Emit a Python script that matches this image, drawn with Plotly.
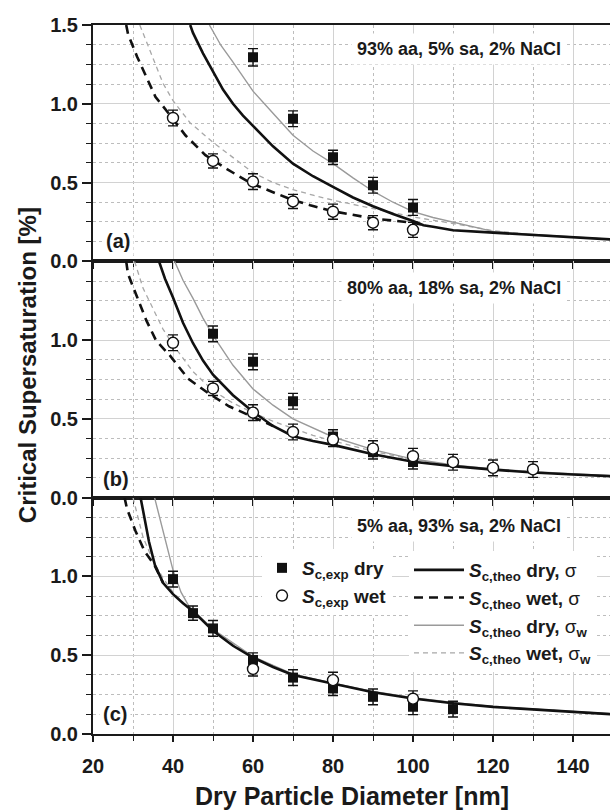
import plotly.graph_objects as go
from plotly.subplots import make_subplots

# ---------------- data ----------------
# panel (a): 93% aa, 5% sa, 2% NaCl
a_dry_x = [60, 70, 80, 90, 100]
a_dry_y = [1.295, 0.905, 0.66, 0.483, 0.342]
a_dry_e = [0.055, 0.05, 0.045, 0.05, 0.05]
a_wet_x = [40, 50, 60, 70, 80, 90, 100]
a_wet_y = [0.91, 0.637, 0.506, 0.38, 0.315, 0.245, 0.2]
a_wet_e = [0.05, 0.045, 0.05, 0.045, 0.048, 0.045, 0.048]

a_th_dry_s_x = [44.3, 45, 47.5, 50, 52.5, 55, 57.5, 60, 65, 70, 75, 80, 85, 90, 95, 100, 102.6, 105, 110, 120, 130, 140, 150]
a_th_dry_s_y = [1.5, 1.45, 1.32, 1.2, 1.09, 1.0, 0.925, 0.86, 0.73, 0.62, 0.54, 0.472, 0.405, 0.35, 0.3, 0.256, 0.229, 0.22, 0.197, 0.182, 0.167, 0.155, 0.138]
a_th_wet_s_x = [28.3, 28.75, 31, 33.1, 35.6, 39.2, 43.1, 48.1, 53.5, 59.6, 65.2, 69.3, 74.3, 80, 90, 100, 103]
a_th_wet_s_y = [1.5, 1.443, 1.30, 1.18, 1.045, 0.93, 0.80, 0.674, 0.585, 0.494, 0.436, 0.395, 0.356, 0.318, 0.272, 0.245, 0.229]
a_th_dry_w_x = [49.1, 52, 55, 60, 65, 70, 75, 80, 85, 90, 95, 100, 105, 110, 115, 120, 130, 140, 150]
a_th_dry_w_y = [1.5, 1.37, 1.265, 1.08, 0.94, 0.8, 0.7, 0.62, 0.53, 0.445, 0.375, 0.315, 0.278, 0.25, 0.222, 0.19, 0.17, 0.157, 0.14]
a_th_wet_w_x = [31.7, 34.2, 37.5, 40, 44.25, 50, 54.25, 60, 65, 70, 75, 80, 90, 100, 110, 117, 120, 130, 140, 150]
a_th_wet_w_y = [1.5, 1.34, 1.13, 1.02, 0.88, 0.755, 0.675, 0.563, 0.5, 0.455, 0.42, 0.388, 0.335, 0.282, 0.24, 0.21, 0.195, 0.168, 0.155, 0.138]

# panel (b): 80% aa, 18% sa, 2% NaCl
b_dry_x = [50, 60, 70, 80, 90, 100]
b_dry_y = [1.04, 0.862, 0.612, 0.386, 0.29, 0.227]
b_dry_e = [0.05, 0.05, 0.05, 0.045, 0.045, 0.045]
b_wet_x = [40, 50, 60, 70, 80, 90, 100, 110, 120, 130]
b_wet_y = [0.983, 0.693, 0.54, 0.417, 0.369, 0.311, 0.263, 0.225, 0.189, 0.179]
b_wet_e = [0.05, 0.045, 0.05, 0.05, 0.045, 0.05, 0.05, 0.05, 0.05, 0.05]

b_th_dry_s_x = [36.5, 38, 40, 42.5, 45, 47.5, 50, 55, 60, 65, 70, 75, 80, 90, 100, 110, 120, 130, 140, 150]
b_th_dry_s_y = [1.5, 1.39, 1.27, 1.11, 0.98, 0.87, 0.78, 0.65, 0.545, 0.455, 0.39, 0.36, 0.335, 0.275, 0.228, 0.2, 0.178, 0.16, 0.147, 0.136]
b_th_wet_s_x = [28.3, 28.75, 31, 33.3, 35.8, 39.3, 43.75, 49, 54, 60, 65]
b_th_wet_s_y = [1.5, 1.42, 1.275, 1.127, 0.996, 0.9, 0.756, 0.66, 0.58, 0.51, 0.455]
b_th_dry_w_x = [40.4, 42.5, 45, 47.5, 50, 55, 60, 65, 70, 75, 80, 90, 100, 110, 120, 130, 140, 150]
b_th_dry_w_y = [1.5, 1.38, 1.265, 1.14, 1.03, 0.84, 0.69, 0.587, 0.5, 0.44, 0.385, 0.305, 0.245, 0.207, 0.183, 0.165, 0.15, 0.138]
b_th_wet_w_x = [30.4, 32.5, 35, 37.5, 40, 45, 50, 55, 60, 65, 70, 75, 80, 90, 100, 110, 120, 130, 140, 150]
b_th_wet_w_y = [1.5, 1.33, 1.2, 1.07, 0.97, 0.80, 0.68, 0.6, 0.54, 0.485, 0.44, 0.395, 0.36, 0.295, 0.24, 0.204, 0.18, 0.162, 0.148, 0.136]

# panel (c): 5% aa, 93% sa, 2% NaCl
c_dry_x = [40, 45, 50, 60, 70, 80, 90, 100, 110]
c_dry_y = [0.983, 0.767, 0.67, 0.47, 0.358, 0.289, 0.236, 0.173, 0.158]
c_dry_e = [0.05, 0.045, 0.05, 0.045, 0.05, 0.045, 0.05, 0.05, 0.05]
c_wet_x = [60, 80, 100]
c_wet_y = [0.413, 0.342, 0.224]
c_wet_e = [0.045, 0.05, 0.05]

c_th_dry_s_x = [31.9, 33, 34, 35, 35.5, 37.5, 40, 42.5, 45, 50, 55, 60, 65, 70, 80, 90, 100, 110, 120, 130, 140, 150]
c_th_dry_s_y = [1.5, 1.35, 1.22, 1.12, 1.07, 0.96, 0.888, 0.83, 0.78, 0.655, 0.56, 0.485, 0.425, 0.375, 0.318, 0.265, 0.225, 0.195, 0.172, 0.155, 0.14, 0.125]
c_th_wet_s_x = [27.9, 28.5, 30.6, 32.9, 35.4, 37.5]
c_th_wet_s_y = [1.5, 1.43, 1.29, 1.16, 1.07, 0.96]
c_th_dry_w_x = [35.4, 37, 38, 40, 42, 44, 45, 50, 60, 70, 80, 90, 100, 110, 120, 130, 140, 150]
c_th_dry_w_y = [1.5, 1.33, 1.24, 1.04, 0.9, 0.81, 0.785, 0.665, 0.492, 0.38, 0.322, 0.27, 0.23, 0.2, 0.175, 0.158, 0.143, 0.128]
c_th_wet_w_x = [30, 32.5, 35, 37.5, 40, 42.5, 45, 50, 60, 70, 80, 90, 100, 110, 120, 130, 140, 150]
c_th_wet_w_y = [1.5, 1.25, 1.1, 0.99, 0.9, 0.835, 0.782, 0.66, 0.489, 0.378, 0.32, 0.268, 0.227, 0.197, 0.174, 0.157, 0.142, 0.127]

panel_titles = ["93% aa, 5% sa, 2% NaCl", "80% aa, 18% sa, 2% NaCl", "5% aa, 93% sa, 2% NaCl"]
panel_labels = ["(a)", "(b)", "(c)"]
x_ticks = [20, 40, 60, 80, 100, 120, 140]
y_ticks_top = [0.0, 0.5, 1.0, 1.5]
y_ticks = [0.0, 0.5, 1.0]

legend_names = {
    "dry": "<b><i>S</i><sub>c,exp</sub> dry</b>",
    "wet": "<b><i>S</i><sub>c,exp</sub> wet</b>",
    "tds": "<b><i>S</i><sub>c,theo</sub> dry,</b> σ",
    "tws": "<b><i>S</i><sub>c,theo</sub> wet,</b> σ",
    "tdw": "<b><i>S</i><sub>c,theo</sub> dry,</b> σ<sub><b>w</b></sub>",
    "tww": "<b><i>S</i><sub>c,theo</sub> wet,</b> σ<sub><b>w</b></sub>",
}

# ---------------- figure ----------------
FONT = "Liberation Sans, Arial, Helvetica, sans-serif"
INK = "#1a1a1a"
fig = make_subplots(rows=3, cols=1, shared_xaxes=True, vertical_spacing=0)

panels = [
    (a_dry_x, a_dry_y, a_dry_e, a_wet_x, a_wet_y, a_wet_e,
     (a_th_dry_s_x, a_th_dry_s_y), (a_th_wet_s_x, a_th_wet_s_y),
     (a_th_dry_w_x, a_th_dry_w_y), (a_th_wet_w_x, a_th_wet_w_y)),
    (b_dry_x, b_dry_y, b_dry_e, b_wet_x, b_wet_y, b_wet_e,
     (b_th_dry_s_x, b_th_dry_s_y), (b_th_wet_s_x, b_th_wet_s_y),
     (b_th_dry_w_x, b_th_dry_w_y), (b_th_wet_w_x, b_th_wet_w_y)),
    (c_dry_x, c_dry_y, c_dry_e, c_wet_x, c_wet_y, c_wet_e,
     (c_th_dry_s_x, c_th_dry_s_y), (c_th_wet_s_x, c_th_wet_s_y),
     (c_th_dry_w_x, c_th_dry_w_y), (c_th_wet_w_x, c_th_wet_w_y)),
]

line_styles = {
    "tds": dict(color="#111111", width=2.6),
    "tws": dict(color="#111111", width=2.6, dash="9px,6px"),
    "tdw": dict(color="#9a9a9a", width=1.4),
    "tww": dict(color="#a8a8a8", width=1.3, dash="5px,4px"),
}

for i, p in enumerate(panels):
    row = i + 1
    leg = (row == 3)
    dx, dy, de, wx, wy, we, tds, tws, tdw, tww = p
    # theory curves (drawn first)
    for key, (cx, cy) in (("tww", tww), ("tdw", tdw), ("tws", tws), ("tds", tds)):
        fig.add_trace(go.Scatter(x=cx, y=cy, mode="lines", line=line_styles[key],
                                 name=legend_names[key], showlegend=leg, legend="legend2",
                                 legendrank={"tds": 1, "tws": 2, "tdw": 3, "tww": 4}[key],
                                 hoverinfo="skip"), row=row, col=1)
    fig.add_trace(go.Scatter(x=dx, y=dy, mode="markers",
                             marker=dict(symbol="square", size=10, color="#111111",
                                         line=dict(width=0)),
                             error_y=dict(type="data", array=de, thickness=1.4, width=5, color="#111111"),
                             name=legend_names["dry"], showlegend=leg, legend="legend",
                             legendrank=1), row=row, col=1)
    fig.add_trace(go.Scatter(x=wx, y=wy, mode="markers",
                             marker=dict(symbol="circle", size=11, color="white",
                                         line=dict(width=1.4, color="#111111")),
                             error_y=dict(type="data", array=we, thickness=1.4, width=5, color="#111111"),
                             name=legend_names["wet"], showlegend=leg, legend="legend",
                             legendrank=2), row=row, col=1)

# ---------------- axes ----------------
domains = [[2 / 3, 1.0], [1 / 3, 2 / 3], [0.0, 1 / 3]]
for i in range(3):
    row = i + 1
    fig.update_xaxes(
        row=row, col=1, range=[20, 149.25], tickmode="array", tickvals=x_ticks,
        ticktext=[str(v) for v in x_ticks],
        showticklabels=(row == 3), ticks="outside", ticklen=6, tickwidth=1.6, tickcolor=INK,
        showline=True, linewidth=2, linecolor=INK, mirror=True,
        showgrid=True, gridcolor="#d2d2d2", gridwidth=1.4,
        minor=dict(tick0=0, dtick=10, ticks="outside", ticklen=5, tickwidth=1.4, tickcolor=INK,
                   showgrid=True, gridcolor="#bdbdbd", gridwidth=1, griddash="dot"),
        tickfont=dict(family=FONT, size=20, color=INK, weight="bold"),
        ticklabelstandoff=7, zeroline=False,
    )
    fig.update_yaxes(
        row=row, col=1, range=[0, 1.5], domain=domains[i], tickmode="array",
        tickvals=(y_ticks_top if row == 1 else y_ticks), tickformat=".1f",
        ticks="outside", ticklen=9, tickwidth=1.6, tickcolor=INK,
        showline=True, linewidth=2, linecolor=INK, mirror=False,
        showgrid=True, gridcolor="#d2d2d2", gridwidth=1.4,
        minor=dict(tick0=0, dtick=0.125, ticks="outside", ticklen=5, tickwidth=1.4, tickcolor=INK,
                   showgrid=True, gridcolor="#bdbdbd", gridwidth=1, griddash="dot"),
        tickfont=dict(family=FONT, size=20, color=INK, weight="bold"),
        ticklabelstandoff=0, zeroline=False,
    )

# ---------------- annotations ----------------
ann = []
yrefs = ["y", "y2", "y3"]
xrefs = ["x", "x2", "x3"]
title_y = [1.35, 1.33, 1.32]
label_pos = [(26.25, 0.13), (25.75, 0.12), (25.6, 0.125)]
for i in range(3):
    ann.append(dict(x=138.6, y=title_y[i], xref=xrefs[i], yref=yrefs[i], text="<b>%s</b>" % panel_titles[i],
                    showarrow=False, xanchor="right", yanchor="middle",
                    font=dict(family=FONT, size=18, color=INK), bgcolor="white", borderpad=5))
    ann.append(dict(x=label_pos[i][0], y=label_pos[i][1], xref=xrefs[i], yref=yrefs[i],
                    text="<b>%s</b>" % panel_labels[i], showarrow=False, xanchor="center", yanchor="middle",
                    font=dict(family=FONT, size=20, color=INK), bgcolor="white", borderpad=3))
ann.append(dict(x=-0.128, y=0.52, xref="paper", yref="paper", text="<b>Critical Supersaturation [%]</b>",
                textangle=-90, showarrow=False, xanchor="center", yanchor="middle",
                font=dict(family=FONT, size=24, color=INK)))
ann.append(dict(x=0.5, y=-0.088, xref="paper", yref="paper", text="<b>Dry Particle Diameter [nm]</b>",
                showarrow=False, xanchor="center", yanchor="middle",
                font=dict(family=FONT, size=25, color=INK)))

fig.update_layout(
    width=610, height=812,
    margin=dict(l=93, r=0, t=25, b=78),
    paper_bgcolor="white", plot_bgcolor="white",
    font=dict(family=FONT, color=INK),
    annotations=ann,
    legend=dict(x=(262 - 93) / 517, y=(734 - 549) / 709, xanchor="left", yanchor="top",
                xref="paper", yref="paper", bgcolor="white", borderwidth=0,
                font=dict(family=FONT, size=19, color=INK), itemwidth=30, tracegroupgap=0),
    legend2=dict(x=(409 - 93) / 517, y=(734 - 551) / 709, xanchor="left", yanchor="top",
                 xref="paper", yref="paper", bgcolor="white", borderwidth=0,
                 font=dict(family=FONT, size=19, color=INK), itemwidth=50, tracegroupgap=0),
    showlegend=True,
)

fig.write_html("out.html", config={"displayModeBar": False},
               post_script="document.body.style.margin='0';document.body.style.padding='0';")
